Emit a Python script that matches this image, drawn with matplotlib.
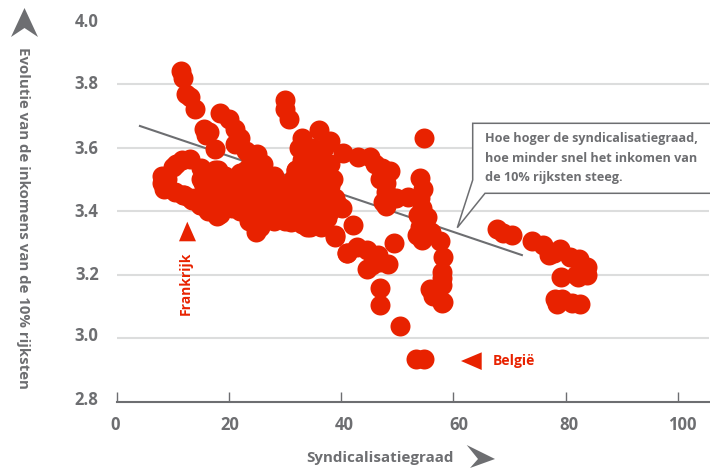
import matplotlib
matplotlib.use("Agg")
import matplotlib.pyplot as plt
from matplotlib.patches import Polygon
from matplotlib.transforms import ScaledTranslation, Affine2D

W, H = 710, 468
GREY = "#6d6e71"
RED = "#e82200"
GRID = "#dcdddd"

plt.rcParams["font.family"] = ["Open Sans", "DejaVu Sans"]
plt.rcParams["font.weight"] = "bold"

# syndicalisatiegraad (x) and evolutie inkomen top 10% (y)
x_left = [8, 8, 8.4, 9, 10, 10.5, 11.6, 13, 12, 13, 14, 15, 16, 15, 15, 16, 17, 18, 18, 18.5,
          19, 19, 20, 20, 21, 21, 22, 22, 23, 23, 24, 24, 25, 25, 26, 26, 27, 27, 24.8, 25.5,
          27, 28, 28, 29, 29, 30, 10.4, 11.8, 13.4, 14.8, 16.3, 17.9, 15.3, 17.5, 19.3]
y_left = [3.51, 3.49, 3.47, 3.50, 3.54, 3.55, 3.56, 3.565, 3.45, 3.44, 3.44, 3.42, 3.42, 3.50, 3.535, 3.48,
          3.50, 3.53, 3.42, 3.39, 3.50, 3.45, 3.50, 3.44, 3.48, 3.42, 3.45, 3.40, 3.40, 3.50, 3.55, 3.47, 3.58, 3.47, 3.55, 3.42, 3.50, 3.42, 3.335, 3.35,
          3.38, 3.48, 3.43, 3.40, 3.47, 3.37, 3.46, 3.45, 3.435, 3.42, 3.40, 3.385, 3.49, 3.53, 3.51]

x_chains = [11.5, 11.8, 12.3, 13, 14, 15.5, 16, 16.5, 17.5, 18.5, 20, 21, 22, 21, 23, 24, 30, 30, 30.8]
y_chains = [3.84, 3.82, 3.77, 3.76, 3.72, 3.66, 3.64, 3.65, 3.595, 3.71, 3.69, 3.66, 3.63, 3.61, 3.59, 3.56, 3.75, 3.72, 3.69]

x_mid = [31, 31, 31.5, 32, 33, 33, 34, 32.5, 33, 32, 33, 35, 36, 37, 38, 38, 37, 38, 36, 35, 37, 38, 38.9, 39,
         34, 35, 36, 34, 36, 35, 33, 34, 40.2, 40.3, 41, 42.1, 42.8, 43, 45.2, 46, 47, 48, 48, 47.5, 48,
         44.6, 44.7, 46.6, 47, 47, 48.3, 49.5, 50.5, 47.3, 48, 41, 49.8, 45.5, 47]
y_mid = [3.365, 3.45, 3.50, 3.53, 3.36, 3.45, 3.35, 3.60, 3.56, 3.53, 3.63, 3.60, 3.655, 3.60, 3.62, 3.55, 3.50, 3.48, 3.44, 3.40, 3.42, 3.40, 3.325, 3.32,
         3.50, 3.55, 3.52, 3.42, 3.38, 3.47, 3.40, 3.37, 3.41, 3.583, 3.27, 3.357, 3.287, 3.57, 3.57, 3.55, 3.50, 3.52, 3.46, 3.43, 3.415,
         3.278, 3.217, 3.262, 3.16, 3.105, 3.234, 3.30, 3.04, 3.536, 3.49, 3.27, 3.44, 3.23, 3.24]

# points hidden in the solid part of the cloud
x_dense = [19, 20.5, 20, 22, 22, 24, 23.5, 26, 26, 26, 28, 28, 28, 30, 30, 30, 27.7, 31.2, 32, 32,
           34, 34, 34, 36, 36, 36, 38, 36, 32.5, 34.5, 36, 23, 24.5, 26, 15.5, 17, 24, 28,
           38.6, 39, 39.5, 36.5, 37.5]
y_dense = [3.44, 3.41, 3.47, 3.49, 3.52, 3.44, 3.37, 3.39, 3.46, 3.51, 3.51, 3.45, 3.39, 3.47, 3.44, 3.40, 3.505, 3.49, 3.41, 3.47,
           3.46, 3.52, 3.58, 3.36, 3.47, 3.56, 3.44, 3.40, 3.38, 3.35, 3.385, 3.53, 3.52, 3.50, 3.46, 3.46, 3.40, 3.37,
           3.50, 3.44, 3.42, 3.35, 3.38]

x_right = [54.8, 48.7, 51.9, 54.1, 54.6, 53.7, 55.3, 53.5, 54.4, 56, 57.6, 58.2, 57.9, 58, 58, 55.8, 56.3, 57.9, 58.1, 54, 54.5, 55, 54,
           67.8, 68.9, 70.5, 74.1, 76, 77, 79, 80.8, 82.4, 83.9, 83.9, 82.3, 79.2, 78.1, 78.4, 79.4, 81.1, 82.6, 78, 83.5, 81.8, 53.4, 54.8]
y_right = [3.63, 3.526, 3.445, 3.503, 3.47, 3.388, 3.383, 3.325, 3.31, 3.335, 3.306, 3.256, 3.21, 3.19, 3.168, 3.155, 3.134, 3.11, 3.115, 3.44, 3.41, 3.36, 3.35,
           3.344, 3.333, 3.324, 3.306, 3.294, 3.262, 3.281, 3.257, 3.25, 3.225, 3.2, 3.193, 3.194, 3.124, 3.108, 3.124, 3.11, 3.108, 3.27, 3.205, 3.2, 2.934, 2.934]

trend_x = [3.97, 72.4]
trend_y = [3.669, 3.261]

x_ticks = [0, 20, 40, 60, 80, 100]
y_ticks = [2.8, 3.0, 3.2, 3.4, 3.6, 3.8, 4.0]
grid_levels = [3.0, 3.2, 3.4, 3.6, 3.8]
x_shift = [-2, 1, 3, 6, 3, 5]
y_shift = [4, 4, 2, 1, 1, 2, 0]

fig = plt.figure(figsize=(W / 100, H / 100), dpi=100)
ax = fig.add_axes([116.7 / W, (H - 402) / H, (709 - 116.7) / W, (402 - 20.4) / H])
ax.set_xlim(0, (709 - 116.7) / 5.61)
ax.set_ylim(2.8, 2.8 + (402 - 20.4) / 318)
ax.patch.set_alpha(0)
for side in ["top", "right", "left"]:
    ax.spines[side].set_visible(False)
ax.spines["bottom"].set_color(GREY)
ax.spines["bottom"].set_linewidth(1.5)

for lev in grid_levels:
    ax.axhline(lev, color=GRID, lw=1.5, zorder=1)

ax.plot(trend_x, trend_y, color=GREY, lw=1.5, zorder=2, solid_capstyle="butt")

ax.scatter(x_left + x_chains + x_mid + x_dense + x_right, y_left + y_chains + y_mid + y_dense + y_right,
           s=(20 * 0.72) ** 2, color=RED, linewidths=0, zorder=3, clip_on=False)

ax.set_xticks(x_ticks)
ax.set_xticklabels([str(t) for t in x_ticks], fontsize=12, color=GREY, fontweight="bold")
ax.set_yticks(y_ticks)
ax.set_yticklabels([f"{t:.1f}" for t in y_ticks], fontsize=12, color=GREY, fontweight="bold")
ax.tick_params(axis="x", direction="in", length=7, width=1, color=GREY, pad=10)
ax.tick_params(axis="y", length=0, pad=13)
for lab, dx in zip(ax.get_xticklabels(), x_shift):
    lab.set_transform(lab.get_transform() + ScaledTranslation(dx / 100, 0, fig.dpi_scale_trans))
for lab, dy in zip(ax.get_yticklabels(), y_shift):
    lab.set_transform(lab.get_transform() + ScaledTranslation(0, dy / 100, fig.dpi_scale_trans))

# everything below is placed in picture pixels
px = Affine2D().scale(1 / W, -1 / H).translate(0, 1) + fig.transFigure


def shape(pts, color, z=4):
    fig.add_artist(Polygon(pts, closed=True, transform=px, facecolor=color, edgecolor="none", zorder=z))


# callout box, open on the right edge
fig.add_artist(Polygon([(710, 123.3), (472.7, 123.3), (472.7, 180), (457.3, 227.7), (485, 193.3), (710, 193.3)],
                       closed=False, transform=px, facecolor="white", edgecolor=GREY, lw=1.1, zorder=5))
for i, line in enumerate(["Hoe hoger de syndicalisatiegraad,",
                          "hoe minder snel het inkomen van",
                          "de 10% rijksten steeg."]):
    fig.text(485 / W, 1 - (138 + i * 20) / H, line, fontsize=9.1, color=GREY, va="center", ha="left", zorder=6)

# axis arrows
shape([(24.5, 8), (11, 37), (24.5, 28), (38, 37)], GREY)
shape([(495, 459), (466.7, 445), (478, 459), (470, 468)], GREY)

# country markers
shape([(187.3, 221.7), (179, 241.3), (196, 241.3)], RED)
shape([(461, 361), (481.7, 352.3), (481.7, 370)], RED)
fig.text(185.5 / W, 1 - 283 / H, "Frankrijk", rotation=90, fontsize=10, color=RED, ha="center", va="center")
fig.text(493 / W, 1 - 360.5 / H, "België", fontsize=10, color=RED, ha="left", va="center")

fig.text(23 / W, 1 - 218 / H, "Evolutie van de inkomens van de 10% rijksten", rotation=-90,
         fontsize=10.8, color=GREY, ha="center", va="center")
fig.text(380 / W, 1 - 458 / H, "Syndicalisatiegraad", fontsize=10.9, color=GREY, ha="center", va="center")

fig.savefig("out.png", dpi=100)
